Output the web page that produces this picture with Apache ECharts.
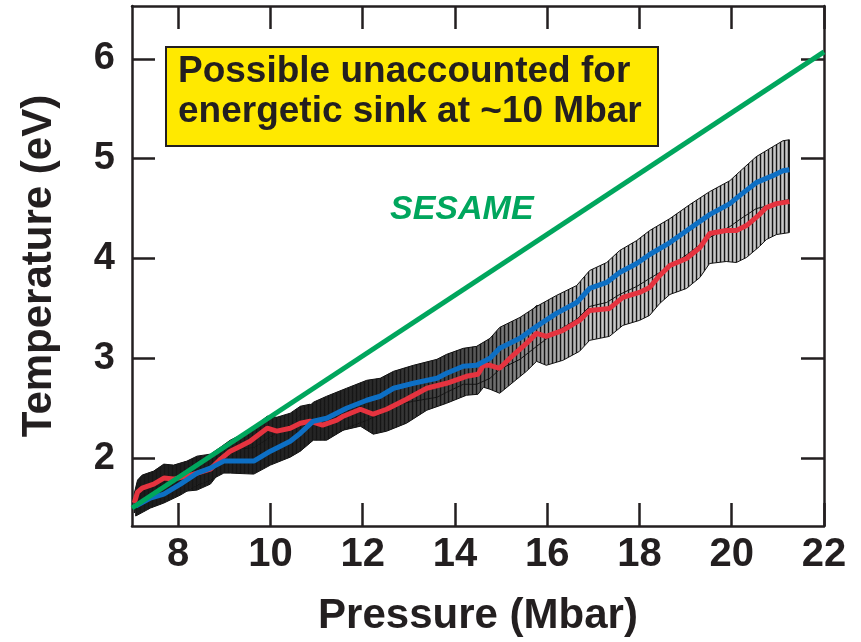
<!DOCTYPE html>
<html><head><meta charset="utf-8">
<script src="https://cdn.jsdelivr.net/npm/echarts@6/dist/echarts.min.js"></script>
<style>html,body{margin:0;padding:0;background:#fff}#c{width:861px;height:642px}</style>
</head><body><div id="c"></div><script>
// ---- data ----
const xTicks = [8, 10, 12, 14, 16, 18, 20, 22];
const yTicks = [2, 3, 4, 5, 6];
const sesameP = [7, 22];
const sesameT = [1.50, 6.07];

const blueP = [7.08,7.40,7.69,8.05,8.41,8.70,8.99,9.13,9.64,10.0,10.43,10.65,10.93,11.22,11.65,12.09,12.38,12.67,13.1,13.61,13.82,14.18,14.47,14.76,14.97,15.41,15.77,16.2,16.64,16.92,17.29,17.57,17.94,18.22,18.66,19.09,19.52,19.96,20.17,20.53,20.89,21.11,21.25];
const blueT = [1.52,1.60,1.64,1.74,1.85,1.90,1.97,1.97,1.97,2.07,2.17,2.25,2.37,2.40,2.50,2.58,2.62,2.70,2.75,2.80,2.85,2.92,2.93,3.00,3.10,3.20,3.32,3.45,3.56,3.70,3.76,3.86,3.95,4.04,4.16,4.30,4.44,4.55,4.63,4.76,4.83,4.88,4.89];
const blueErr = [0.10,0.10,0.09,0.11,0.12,0.12,0.12,0.12,0.13,0.14,0.16,0.18,0.19,0.22,0.20,0.20,0.18,0.17,0.18,0.19,0.19,0.18,0.19,0.20,0.21,0.21,0.20,0.18,0.17,0.18,0.20,0.22,0.23,0.24,0.24,0.24,0.23,0.23,0.24,0.26,0.29,0.30,0.30];

const redP = [7.05,7.12,7.22,7.47,7.69,7.90,8.19,8.41,8.70,8.92,9.13,9.35,9.56,9.93,10.14,10.43,10.65,10.86,11.13,11.44,11.58,11.95,12.23,12.52,12.95,13.39,13.82,14.25,14.50,14.62,14.76,14.97,15.26,15.55,15.77,15.98,16.34,16.70,16.92,17.35,17.64,18.0,18.22,18.44,18.66,19.02,19.31,19.52,19.88,20.1,20.32,20.6,20.75,20.97,21.25];
const redT = [1.55,1.66,1.70,1.74,1.80,1.79,1.82,1.85,1.89,1.99,2.07,2.12,2.17,2.30,2.27,2.30,2.35,2.37,2.33,2.38,2.42,2.49,2.44,2.49,2.59,2.70,2.75,2.82,2.84,2.93,2.93,2.90,3.03,3.15,3.25,3.22,3.28,3.38,3.48,3.50,3.61,3.66,3.71,3.83,3.93,4.00,4.11,4.25,4.28,4.28,4.33,4.44,4.51,4.55,4.57];
const redErr = [0.10,0.12,0.13,0.13,0.14,0.14,0.15,0.17,0.15,0.12,0.11,0.11,0.11,0.12,0.14,0.15,0.17,0.17,0.14,0.13,0.14,0.17,0.20,0.22,0.24,0.22,0.20,0.19,0.20,0.22,0.24,0.25,0.27,0.28,0.28,0.29,0.30,0.31,0.30,0.28,0.28,0.28,0.28,0.28,0.29,0.30,0.30,0.30,0.31,0.32,0.32,0.32,0.32,0.31,0.31];

const annotationLines = ['Possible unaccounted for', 'energetic sink at ~10 Mbar'];
const sesameLabel = 'SESAME';

// ---- styling ----
const FONT = '"Liberation Sans", Arial, Helvetica, sans-serif';
const INK = '#231f20';
const BLUE = '#0d6fc4';
const RED = '#e5333f';
const GREEN = '#00a65d';

const stripe = document.createElement('canvas');
stripe.width = 4; stripe.height = 2;
(function(){
  const g = stripe.getContext('2d');
  const cols = ['#151515', '#9c9c9c', '#c8c8c8', '#a4a4a4'];
  cols.forEach((c, i) => { g.fillStyle = c; g.fillRect(i, 0, 1, 2); });
})();
const stripePattern = { image: stripe, repeat: 'repeat' };
const darkGrad = {
  type: 'linear', x: 0, y: 0, x2: 1, y2: 0,
  colorStops: [
    { offset: 0, color: 'rgba(22,22,22,0.97)' },
    { offset: 0.35, color: 'rgba(22,22,22,0.9)' },
    { offset: 0.50, color: 'rgba(22,22,22,0.7)' },
    { offset: 0.60, color: 'rgba(22,22,22,0.3)' },
    { offset: 0.70, color: 'rgba(22,22,22,0)' },
    { offset: 1, color: 'rgba(22,22,22,0)' }
  ]
};

function bandRenderer(P, T, E) {
  return function (params, api) {
    const up = P.map((p, i) => api.coord([p, T[i] + E[i]]));
    const lo = P.map((p, i) => api.coord([p, T[i] - E[i]])).reverse();
    const pts = up.concat(lo);
    return {
      type: 'group',
      children: [
        { type: 'polygon', shape: { points: pts }, style: { fill: stripePattern, stroke: '#111', lineWidth: 1 } },
        { type: 'polygon', shape: { points: pts }, style: { fill: darkGrad } }
      ]
    };
  };
}

const zip = (a, b) => a.map((v, i) => [v, b[i]]);

const axisLineStyle = { color: INK, width: 2.5 };
function xAxisDef(pos, withLabels) {
  return {
    type: 'value', min: 7, max: 22, position: pos,
    axisLine: { show: true, onZero: false, lineStyle: axisLineStyle },
    axisTick: { show: true, inside: true, length: 23, customValues: xTicks, lineStyle: { color: INK, width: 2.5 } },
    axisLabel: { show: withLabels, customValues: xTicks, fontSize: 40, fontWeight: 'bold', fontFamily: FONT, color: INK, margin: 9 },
    splitLine: { show: false },
    name: withLabels ? 'Pressure (Mbar)' : '',
    nameLocation: 'middle', nameGap: 69,
    nameTextStyle: { fontSize: 42, fontWeight: 'bold', fontFamily: FONT, color: INK }
  };
}
function yAxisDef(pos, withLabels) {
  return {
    type: 'value', min: 1.32, max: 6.53, position: pos,
    axisLine: { show: true, onZero: false, lineStyle: axisLineStyle },
    axisTick: { show: true, inside: true, length: 23, customValues: yTicks, lineStyle: { color: INK, width: 2.5 } },
    axisLabel: { show: withLabels, customValues: yTicks, fontSize: 38, fontWeight: 'bold', fontFamily: FONT, color: INK, margin: 17 },
    splitLine: { show: false },
    name: withLabels ? 'Temperature (eV)' : '',
    nameLocation: 'middle', nameGap: 72, nameRotate: 90,
    nameTextStyle: { fontSize: 42, fontWeight: 'bold', fontFamily: FONT, color: INK }
  };
}

const chart = echarts.init(document.getElementById('c'), null, { renderer: 'canvas' });
chart.setOption({
  animation: false,
  backgroundColor: '#fff',
  grid: { left: 132, right: 37, top: 6, bottom: 114 },
  xAxis: [xAxisDef('bottom', true), xAxisDef('top', false)],
  yAxis: [yAxisDef('left', true), yAxisDef('right', false)],
  series: [
    { type: 'custom', name: 'red err', clip: true, z: 1, renderItem: bandRenderer(redP, redT, redErr), data: [[redP[0], redT[0]]] },
    { type: 'custom', name: 'blue err', clip: true, z: 1, renderItem: bandRenderer(blueP, blueT, blueErr), data: [[blueP[0], blueT[0]]] },
    { type: 'line', name: 'red', data: zip(redP, redT), showSymbol: false, z: 3, lineStyle: { color: RED, width: 5 } },
    { type: 'line', name: 'blue', data: zip(blueP, blueT), showSymbol: false, z: 4, lineStyle: { color: BLUE, width: 5 } },
    { type: 'line', name: 'SESAME', data: zip(sesameP, sesameT), showSymbol: false, z: 5, lineStyle: { color: GREEN, width: 5 } }
  ],
  graphic: [
    { type: 'rect', left: 165, top: 46, shape: { width: 492, height: 99 }, style: { fill: '#ffe900', stroke: INK, lineWidth: 2 }, z: 10 },
    { type: 'text', x: 178, y: 72, style: { text: annotationLines[0], font: 'bold 37px ' + FONT, fill: INK, verticalAlign: 'middle' }, z: 11 },
    { type: 'text', x: 178, y: 112, style: { text: annotationLines[1], font: 'bold 37px ' + FONT, fill: INK, verticalAlign: 'middle' }, z: 11 },
    { type: 'text', x: 390, y: 210, style: { text: sesameLabel, font: 'italic bold 34px ' + FONT, fill: GREEN, verticalAlign: 'middle' }, z: 11 }
  ]
});
</script></body></html>
